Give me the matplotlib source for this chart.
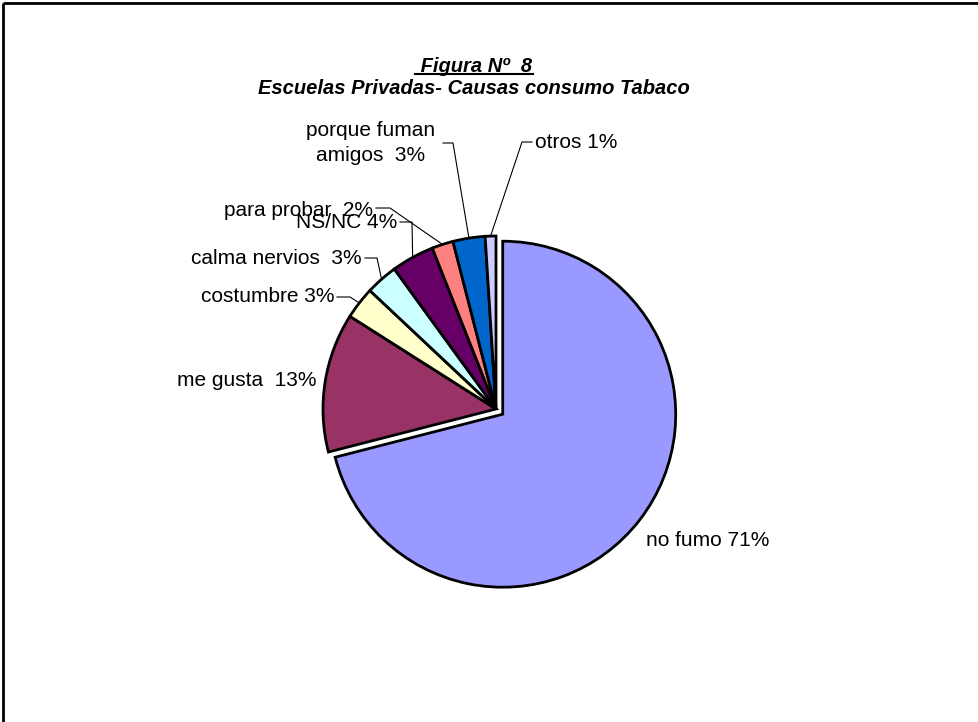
import matplotlib
matplotlib.use('Agg')
import matplotlib.pyplot as plt
import numpy as np

plt.rcParams['font.family'] = ['Liberation Sans', 'DejaVu Sans']

# data
causas = ['no fumo', 'me gusta', 'costumbre', 'calma nervios', 'NS/NC',
          'para probar', 'porque fuman\namigos', 'otros']
porcentajes = [71, 13, 3, 3, 4, 2, 3, 1]
etiquetas = ['no fumo 71%', 'me gusta  13%', 'costumbre 3%', 'calma nervios  3%',
             'NS/NC 4%', 'para probar  2%', 'porque fuman\namigos  3%', 'otros 1%']
colores = ['#9999FF', '#993366', '#FFFFCC', '#CCFFFF', '#660066',
           '#FF8080', '#0066CC', '#CCCCFF']

W, H = 979, 722
fig = plt.figure(figsize=(W / 100, H / 100), dpi=100)
ax = fig.add_axes([0, 0, 1, 1])

cx, cy, R = 496, 409, 173
# explode is in data units (pixels here), first slice pulled out
explode = [8.5, 0, 0, 0, 0, 0, 0, 0]

wedges, _ = ax.pie(porcentajes, colors=colores, startangle=90, counterclock=False,
                   explode=explode, center=(cx, H - cy), radius=R,
                   wedgeprops=dict(edgecolor='black', linewidth=2.0))
ax.set_xlim(0, W)
ax.set_ylim(0, H)
ax.set_aspect('auto')
ax.axis('off')

# label layout: (text anchor x, y, ha, leader elbow points) in pixel coords
layout = [
    (646, 541, 'left', None),
    (317, 380, 'right', None),
    (335, 297, 'right', [(337, 297), (350, 297)]),
    (362, 258, 'right', [(365, 258), (377, 258)]),
    (397, 222, 'right', [(400, 222), (412, 222)]),
    (373, 210, 'right', [(376, 208), (390, 208)]),
    (371, 143, 'center', [(443, 143), (453, 143)]),
    (535, 142, 'left', [(532, 142), (522, 142)]),
]

for w, lab, (tx, ty, ha, elbow) in zip(wedges, etiquetas, layout):
    ax.text(tx, H - ty, lab, ha=ha, va='center', fontsize=15,
            multialignment='center', linespacing=1.45)
    if elbow is not None:
        mid = np.deg2rad((w.theta1 + w.theta2) / 2)
        ex = w.center[0] + w.r * np.cos(mid)
        ey = w.center[1] + w.r * np.sin(mid)
        xs = [p[0] for p in elbow] + [ex]
        ys = [H - p[1] for p in elbow] + [ey]
        ax.plot(xs, ys, color='black', linewidth=0.8)

# title
t1 = ax.text(474, H - 66, ' Figura Nº  8', ha='center', va='center', fontsize=14.5,
             fontweight='bold', fontstyle='italic')
ax.text(474, H - 89, 'Escuelas Privadas- Causas consumo Tabaco', ha='center',
        va='center', fontsize=14.5, fontweight='bold', fontstyle='italic')

fig.canvas.draw()
bb = t1.get_window_extent().transformed(ax.transData.inverted())
ax.plot([bb.x0, bb.x1], [bb.y0 + 2, bb.y0 + 2], color='black', linewidth=1.5)

# frame (top and left edges)
ax.plot([3, W], [H - 3, H - 3], color='black', linewidth=2, solid_capstyle='butt')
ax.plot([3, 3], [H - 3, 0], color='black', linewidth=2, solid_capstyle='butt')

fig.savefig('out.png', dpi=100, facecolor='white')
